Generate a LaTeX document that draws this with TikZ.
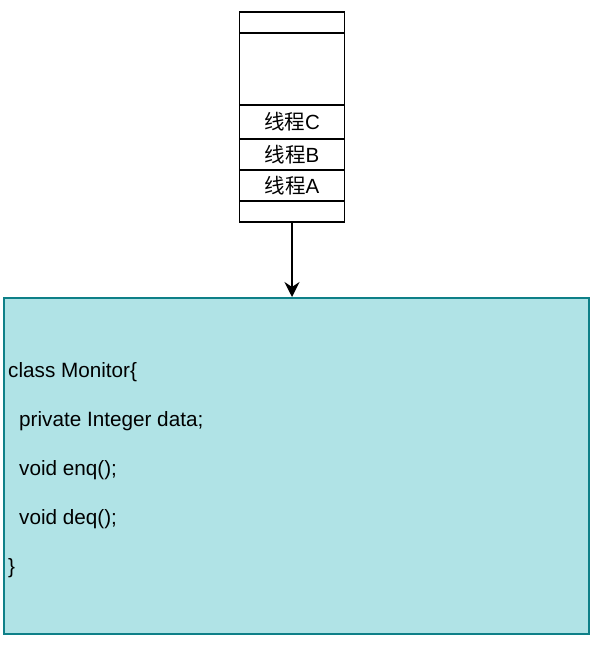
\documentclass[tikz,border=0pt]{standalone}
\usepackage{fontspec}
\setmainfont{Liberation Sans}
\newfontfamily\cjk{Noto Sans CJK SC}
\usetikzlibrary{arrows.meta}

\begin{document}
\begin{tikzpicture}[x=1pt, y=-1pt, >={Stealth[length=15pt,width=15pt,inset=5pt]}]
	\definecolor{monfill}{HTML}{B0E3E6}
	\definecolor{monline}{HTML}{0E8088}
	\tikzset{
		cell/.style={draw, line width=1.6pt, minimum width=105pt, inner sep=0pt, anchor=north, font=\fontsize{20.5}{24}\selectfont},
		codeline/.style={inner sep=0pt, anchor=base west, font=\fontsize{20.7}{24}\selectfont}
	}
	\useasboundingbox (0,0) rectangle (595,650);
	
	% stack of threads
	\node[cell, minimum height=21pt] (top) at (292,11) {};
	\node[cell, minimum height=72pt] (gap) at (292,32) {};
	\node[cell, minimum height=34pt] (thrc) at (292,104) {{\cjk 线程}C};
	\node[cell, minimum height=31pt] (thrb) at (292,138) {{\cjk 线程}B};
	\node[cell, minimum height=31pt] (thra) at (292,169) {{\cjk 线程}A};
	\node[cell, minimum height=21pt] (bot) at (292,200) {};
	
	% monitor
	\node[draw=monline, fill=monfill, line width=1.6pt, minimum width=585pt, minimum height=336pt, inner sep=0pt, anchor=north west] (monitor) at (3,297) {};
	\draw[->, line width=1.6pt] (bot.south) -- (bot.south |- monitor.north);
	
	\foreach \y/\x/\txt [count=\i] in {377/8/{class Monitor\{}, 426/19/{private Integer data;}, 475/19/{void enq();}, 524/19/{void deq();}, 573/8/{\}}}{
		\node[codeline] (code\i) at (\x,\y) {\txt};
	}
\end{tikzpicture}
\end{document}
